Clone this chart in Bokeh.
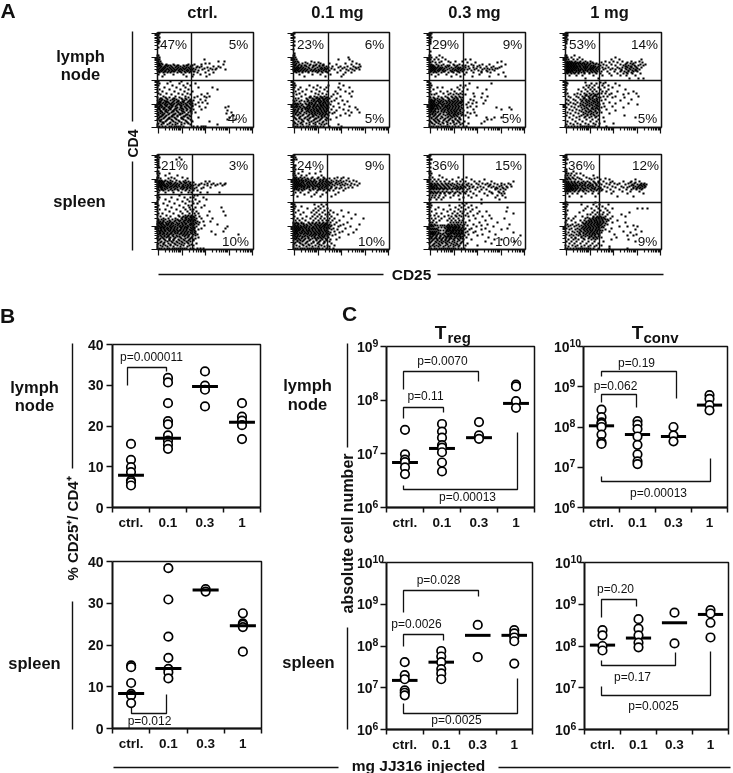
from bokeh.plotting import figure
from bokeh.embed import file_html
from bokeh.resources import INLINE
from bokeh.core.properties import value
from bokeh.models import Range1d, LogScale, LinearScale, LinearAxis, LogAxis, FixedTicker
import math

# ---------- flow cytometry dots, read row by row: {CD4 level: [CD25 levels]} ----------
LN_CTRL = {94:[0,1,2],92:[0,1],90:[0,2],88:[1],86:[0,1,2],84:[1],80:[1],72:[0,1],70:[0,2],68:[0,1,2,47],66:[0,1,3,61,67],64:[0,1,2,4,48,52],
63:[2,5,9,16,31,37,44,66],61:[1,4,7,10,14,19,23,27,33,40,44,56,61],60:[0,3,6,8,12,15,18,21,25,29,31,34,39,42,50,63],59:[2,5,7,10,13,16,20,23,26,28,32,36,47,53,59],
58:[1,4,6,9,11,14,17,19,22,24,27,30,33,35,38,45,55,58,68],57:[0,3,5,8,12,15,18,21,25,29,31,34,41,51],55:[2,6,10,13,20,24,28,32,40,48,56],53:[1,7,16,26,36,43,52],51:[5,29,35,49],
46:[0,1,13,24],44:[0,2,10,22,30,38],42:[1,15,26,33],40:[0,7,19,28,41,55],38:[2,12,23,31,60],36:[0,5,17,27,35],34:[1,9,21,30,50],33:[3,14,25,33,44],31:[6,18,28,40,47,52],
30:[0,8,12,22,31,37,49],28:[2,5,10,15,19,25,29,33,43],27:[0,4,7,13,17,21,27,32,36,48],25:[1,3,6,9,11,15,19,23,26,30,34,41,45],24:[0,2,5,8,12,14,17,21,24,28,32,35,50],
23:[1,3,7,10,13,16,20,22,26,29,33,38],21:[0,2,5,9,12,15,18,24,27,31,35,42,71],20:[1,4,7,11,14,20,23,28,32,48,68],18:[2,6,9,13,17,22,26,30,36,44],17:[0,3,8,11,16,19,24,29,33,70],
15:[1,5,10,14,21,27,31,38,74],14:[3,7,12,18,23,25,34,69],12:[1,5,9,15,20,28,32,76],10:[2,7,12,17,24,30,41,72],8:[0,4,10,14,19,26,33,78,70],6:[3,8,16,22,29,35,52],4:[1,6,12,20,27,31],
3:[0,4,10,15,18,24,33,60],1:[0,2,5,8,12,14,17,19,21,23,26,36,40,44,46,48]}
LN_CTRL_CORE = {62:[1,2,3,8,9,11,13,17,20,21,26,29,30,34,35],56:[1,2,4,7,8,11,14,16,17,22,23,27,30,33,36,37],29:[3,4,9,16,17,24,28],26:[2,3,8,9,10,16,20,21,25,26,31,33,34],22:[3,4,8,9,14,15,19,23,24,29,30,34,35],19:[1,2,6,7,12,13,18,19,24,25,29,33,34],16:[3,4,8,9,15,16,20,25,26,33,34],13:[0,1,5,6,11,16,17,22,23,29,30],11:[3,4,8,14,15,20,26,27,33],9:[1,6,11,12,18,24,25,31],7:[2,3,9,15,21,28,34],5:[5,6,13,18,24,30]}
LN_01 = {94:[0,1],90:[0,1],86:[1],82:[0,1],78:[0],74:[1],72:[0,1],70:[0,2,55],68:[0,1,3,45,56],66:[0,2,4,18,59],65:[1,5,12,21,25],64:[0,3,9,14,27,36,52,63],63:[2,6,17,23,30,43,58,66],
61:[0,4,8,13,20,26,33,39,47,54,60,67],60:[1,3,5,7,10,15,19,24,28,31,35,45,51,62,65],59:[0,2,4,6,9,12,16,22,27,29,32,34,38,49,57,63],58:[1,3,5,8,11,14,18,21,25,28,31,33,41,53,59,66],
57:[0,2,4,7,10,13,17,20,23,26,30,36,47,55,61],55:[3,9,15,24,29,34,44,52,58],53:[6,19,27,37,50],51:[11,32,48],
44:[0,1,46],42:[0,2,16,24,35,50],40:[1,7,20,27,33,45,56],38:[0,5,13,23,31,47],36:[2,9,18,26,34,42,52,59],34:[0,6,22,29,44,56],33:[3,12,25,33,40],31:[0,8,17,21,27,31,38,47,58],
29:[2,5,13,19,23,26,29,32,36,43],27:[0,3,8,15,18,21,24,27,30,33,41,49],26:[1,6,11,14,20,23,25,28,31,34,38,54],24:[0,2,4,7,12,16,19,22,26,29,32,35,45],23:[1,3,5,9,13,15,18,21,24,27,30,33,37,51],
21:[0,2,4,6,10,14,17,20,23,25,28,31,34,40,56],20:[1,3,7,11,13,16,19,22,26,29,32,35,46,62],18:[0,2,5,8,12,15,18,21,24,27,30,33,38,50,64],17:[1,4,9,14,17,20,23,25,28,31,34,43,55],
15:[0,3,6,11,16,19,22,26,29,32,36,41,58,66],14:[2,7,13,18,21,24,27,30,33,39,52],12:[0,4,9,15,20,23,28,31,35,47,56],10:[1,6,12,17,25,29,33,43],8:[3,8,14,21,27,32,37],6:[0,5,10,18,24,30],
4:[2,7,13,20,26,33],3:[0,4,9,16,22,28,31,45],1:[0,2,4,7,10,13,15,18,20,22,24,27,30,36,48]}
LN_01_CORE = {62:[1,2,5,8,11,12,16,20,22,26,29,30],56:[1,2,5,6,9,12,15,19,22,25,28,32,33],30:[16,17,23,24,28,29,33,34],28:[14,20,21,25,26,30,31,34],25:[16,18,22,26,27,30,32,35],22:[3,8,15,16,20,21,24,27,28,30,33,34],19:[5,9,12,14,16,20,23,26,27,30,33,34],16:[1,4,8,13,15,18,21,24,25,28,31,33],13:[2,5,10,16,19,22,26,29,32,34],11:[0,7,14,19,20,25,28,31],9:[2,6,11,16,22,23,28,34],7:[9,15,20,26,33],5:[1,8,16,22,29]}
LN_03 = {94:[0,1,2],92:[0,1],90:[0,2],88:[1],86:[0,1],84:[0,1],76:[1],72:[0,1,10],70:[0,2,7,13],68:[0,1,5,9,16,36,41],66:[0,3,12,19,26,33,72],65:[1,6,10,21,38,46,68],
63:[0,2,7,14,24,30,42,53,60,76],61:[1,3,5,9,16,19,27,34,39,48,57,64,72],60:[0,2,4,6,8,11,13,17,22,26,29,31,36,44,51,62,70],59:[1,3,5,7,10,12,15,20,24,28,30,33,40,47,55,58,66,68],
58:[0,2,4,6,9,11,14,18,23,26,29,32,35,38,45,53,60,63],57:[1,3,5,8,10,13,16,21,25,27,31,34,42,49,57,65],55:[0,4,7,12,19,24,30,37,44,52,61,74],53:[2,9,17,27,35,50,69],51:[6,22,31,43,60,76],
44:[0,1,40,62],42:[0,2,31,36],40:[1,8,13,28,34,48],38:[0,4,22,30,38,57],36:[1,11,18,25,33],34:[0,7,14,21,27,31,44,53],33:[2,5,19,24,29,33,36],31:[0,9,16,22,26,30,45,58],
30:[1,4,12,18,23,27,31,33,52],28:[0,2,6,10,14,20,24,28,32,41],27:[1,3,5,8,12,16,19,22,26,29,33,44,56],25:[0,2,4,7,10,13,18,21,24,27,30,32,39,47],24:[1,3,5,9,11,15,17,20,23,26,29,31,43,54],
23:[0,2,4,6,8,12,14,19,22,25,28,33,37],21:[1,3,5,7,10,13,16,18,21,24,27,30,41,47],20:[0,2,4,8,11,15,17,20,23,26,29,32,38,67,80],18:[1,3,6,9,13,16,19,22,25,28,31,44,72,82],17:[0,2,5,12,15,18,21,24,27,30,34],
15:[1,4,8,14,17,20,23,26,29,33,38,45],14:[3,6,11,19,22,25,28,31,41],12:[0,5,9,16,21,24,27,32,36,47],10:[2,7,13,18,23,30,39,57,65,72],8:[4,8,15,20,26,31,58,62],6:[1,6,10,17,24,29,35,55],
4:[3,9,14,21,27,33,39,52],3:[0,5,11,18,25,31],1:[0,2,4,7,9,12,14,16,18,20,23,26,29,34,37]}
LN_03_CORE = {62:[0,1,3,4,9,12,18,20,25,28,33,36,44,50],56:[0,1,2,5,6,9,14,15,22,23,28,29,33,52,58],29:[5,8,13,19,25,28],26:[0,1,2,4,5,9,11,14,17,20,23,25,28,31,33],22:[0,1,2,3,5,7,9,13,16,18,20,23,26,29,32],19:[0,1,2,3,4,6,8,11,14,18,20,23,26,29,33],16:[0,2,4,6,9,12,15,19,22,25,27,31],13:[1,3,6,10,14,18,20,24,26,29,33],11:[0,4,8,12,19,22,25,28],9:[2,6,11,16,21,26,30],7:[0,5,9,14,19,23,28],5:[2,7,13,18,24,30]}
LN_1 = {94:[0,1,2],92:[0,1,2],90:[0,1],88:[0,2],86:[0,1],84:[1],80:[0],72:[0,1,9],70:[0,1,2,6,14,50],68:[0,1,3,8,12,17,46,54,76],66:[0,2,4,6,10,15,20,25,40,48,57,66,74],65:[1,3,5,7,9,12,14,18,22,27,36,44,52,62,70,77],
63:[0,2,4,6,8,10,13,16,19,21,24,30,33,38,46,55,60,67,75,80],62:[1,3,5,7,9,11,14,17,20,23,26,28,35,41,50,58,63,69,73,78],60:[0,2,4,6,8,10,12,15,18,20,22,25,27,29,32,37,43,52,57,62,66,71,76],
59:[1,3,5,7,9,11,13,16,19,21,24,26,28,31,34,40,47,54,60,64,68,72],58:[0,2,4,6,8,10,13,15,17,20,23,25,27,30,33,38,45,50,56,61,65,70,74],56:[1,3,5,7,11,14,18,22,26,29,32,36,42,49,55,59,63,68,72],
54:[2,6,9,13,19,24,31,35,44,52,58,62,67,75],52:[4,11,17,28,37,46,55,61,70],49:[20,33,64,73,78],
45:[0,1,20,35,40],44:[0,2,26,31,38,50],42:[1,21,24,29,37,43,54],40:[0,18,23,27,33,39,47],38:[1,13,20,25,29,35,43,60],36:[0,16,22,27,31,37,41,52,68],34:[2,12,19,24,28,33,36,40,46,63,71],
33:[0,9,15,21,26,30,32,44,58],31:[3,11,17,23,28,31,38,42,50,73],30:[5,13,19,24,27,33,35,47,59],28:[1,8,15,21,25,29,32,40,66],27:[3,10,17,20,23,27,31,36,55],25:[5,12,18,22,26,30,33,44],
24:[1,8,15,20,24,28,32,38,50,63],23:[3,10,17,22,26,30,34,72],21:[6,13,19,24,29,33,39,47],20:[1,9,16,21,27,31,36,58],18:[4,11,17,23,28,33,41],17:[7,14,20,25,30,34,50],15:[2,10,18,23,28,32,36],
14:[5,13,20,26,31,44],12:[1,8,16,22,29,33,59],10:[4,11,19,24,30,38,70],8:[7,14,21,27,33],6:[2,10,17,25,31,39],4:[5,12,20,28,34,48],3:[1,8,15,23,30],1:[0,3,6,9,12,15,17,19,21,23,25,27,29,33,41]}
LN_1_CORE = {64:[1,2,3,5,6,8,10,11,13,15,17,19,22,25,28,31,61,65,68],61:[0,1,2,3,5,6,8,9,11,12,14,15,18,20,22,25,28,30,33,60,61,65,66,70],57:[0,1,2,3,4,6,7,9,11,13,15,18,20,22,25,28,31,56,63,67,70,71],55:[0,1,3,5,8,10,13,16,19,24,27,30,61,66],32:[20,21,25,29,30],29:[18,19,24,27,31],26:[16,21,24,28,29,32],22:[15,18,21,24,27,31,32],19:[19,22,26,27,30,32],16:[16,21,24,26,30],13:[18,22,25,28],11:[14,20,26,31]}
SP_CTRL = {94:[0,1],92:[0,2,22],90:[1,19,24],88:[0,1],86:[1],84:[0,1],82:[1,2],78:[0,1],76:[0,2,12],74:[1,8,20],72:[0,1,14,25],71:[0,3,11,17,30],69:[0,2,4,8,13,19,28],68:[1,3,5,7,10,15,22,26,31,48,52],
66:[0,2,4,6,9,12,14,17,20,24,28,32,44,50,56,63,68],65:[1,3,5,7,10,13,16,19,22,26,30,33,38,42,47,54,60,67],64:[0,2,4,6,8,11,15,18,21,25,28,31,34,36,41,50,58,65],62:[1,3,5,9,12,16,20,24,27,29,32,35,39,46,53],
61:[0,4,7,10,14,18,23,26,30,33,37,44],59:[2,6,11,15,21,28,32,36,40],57:[1,8,16,24,31,34,43,50,62],54:[0,1,22,37,40],52:[0,2,14,27,33,36,46],50:[1,8,20,30,38,49],48:[0,12,25,32,35,42],46:[0,6,17,28,36,40],
44:[1,10,22,31,34,47],42:[0,14,26,32,38,44,64],40:[2,8,19,28,33,36],38:[0,12,23,30,35,39,52,66],36:[1,5,16,25,32,37,41],34:[0,9,21,28,31,34,38,50,68],33:[3,13,22,26,30,33,36,42],31:[0,6,11,18,24,28,31,35,39,44,55],
30:[1,4,8,15,20,25,29,32,34,37],28:[0,3,6,10,13,17,22,26,30,33,36,40,46,53],27:[1,2,5,8,12,15,19,24,27,31,35,38,42],25:[0,3,6,9,11,14,18,21,25,28,32,34,37,41,60],24:[1,4,7,10,13,16,20,23,26,30,33,36,47],
23:[0,2,5,8,12,15,18,22,25,28,31,35,39,70],21:[1,3,6,9,11,14,17,20,24,27,30,34,37,44,68],20:[0,4,7,10,13,16,19,23,26,29,32,36,41],18:[2,5,8,12,15,18,21,25,28,31,35,38,54,66],17:[0,3,6,10,14,17,20,24,27,30,33,37],
15:[1,5,9,12,16,22,26,29,32,36,40,58,81],14:[3,7,11,15,19,25,28,31,38],12:[0,5,9,13,18,23,30,34,41],10:[2,7,12,16,21,26,32,36],8:[4,10,14,19,24,29,33],6:[1,6,11,17,22,27,31,39],4:[3,8,13,20,26,32,36],
3:[0,5,10,16,23,30],1:[0,2,4,7,10,12,15,17,19,21,23,25,27,29,33,36,40,43,46]}
SP_CTRL_CORE = {67:[1,2,4,6,11,13,18,23,27,29,33,36],63:[0,1,3,4,7,8,10,13,14,17,19,22,25,26,30,33],60:[0,1,4,5,8,13,17,20,25,29,35],32:[25,28,29,33,34,35,37],29:[1,6,12,18,21,23,27,28,31,33,35,36,38],26:[0,2,4,5,9,11,14,16,20,22,25,28,29,33,34,36,39],22:[0,3,4,6,7,10,13,14,17,20,23,24,27,29,30,33,36,37],19:[0,1,3,4,7,8,11,13,16,17,20,22,23,26,29,33,34,37],16:[2,3,6,7,10,13,14,18,20,23,24,27,30,34,38],13:[1,4,7,10,11,16,20,22,27,31,35],11:[0,3,6,12,17,24,28,33,38],9:[1,8,12,16,22,27,31,36],7:[3,7,15,20,25,30],5:[0,6,13,18,24,34]}
SP_01 = {94:[0,1],92:[0,2],90:[1,3],88:[0],84:[1,2],82:[0,1],80:[0,2],78:[1,9,27],76:[0,1,5,16,22],74:[0,2,8,13,28],72:[1,3,7,11,19,25,30,44,50],71:[0,2,5,9,14,18,24,31,36,41,48,55],69:[1,3,6,8,10,13,17,21,26,29,33,38,43,47,53,60],
68:[0,2,4,6,9,12,15,18,20,23,27,30,32,35,40,45,50,56,63],66:[1,3,5,7,10,13,16,19,22,25,28,31,34,37,42,46,52,58,66],65:[0,2,4,6,8,11,14,17,20,24,26,29,32,35,39,44,49,54,61],64:[1,3,5,7,9,12,15,18,21,23,27,30,33,36,41,47,51,57,64],
62:[0,2,4,8,11,14,16,20,25,28,31,34,38,43,48,55,59],61:[1,3,6,10,13,19,22,26,29,33,37,42,46,52],59:[0,5,9,17,24,30,36,40,50],57:[2,7,15,23,33,45],55:[0,11,21,29,42],53:[4,18,27,38],
45:[0,1,21,28,33],43:[0,2,8,25,30],41:[1,14,22,27,34],39:[0,5,20,25,31,37,48],37:[2,10,18,23,29,35,40,55],35:[0,7,21,26,32,36,44,62],33:[1,13,19,24,28,34,38,50],31:[0,4,9,17,22,27,31,36,41,58,70],
29:[2,6,12,20,25,29,33,35,39,46],27:[0,3,8,15,19,23,26,30,34,37,43,54],25:[1,5,10,13,17,21,24,28,31,33,36,41,50,66],24:[0,2,4,7,11,14,18,22,25,27,30,32,35,38,47],23:[1,3,5,8,10,13,16,20,23,26,29,31,34,37,45,57],
21:[0,2,4,6,9,12,15,18,21,24,27,30,33,36,40,52],20:[1,3,5,7,10,13,16,19,22,25,28,31,34,38,44,63],18:[0,2,4,8,11,14,17,20,23,26,29,32,35,41,49],17:[1,3,6,9,12,15,18,21,24,27,30,33,37,46,60],
15:[0,2,5,10,14,17,20,23,26,29,32,36,42,55],14:[1,4,7,12,16,19,22,25,28,31,34,39],12:[0,3,9,15,21,24,27,30,35,46],10:[2,6,11,17,23,29,33,37,43],8:[4,9,14,20,26,31,36],6:[1,7,12,18,24,30,38],
4:[3,10,16,22,28,34,41],3:[0,6,13,19,25,31,36],1:[0,2,4,7,9,11,14,16,18,20,22,24,26,29,33,36,40]}
SP_01_CORE = {70:[1,3,5,8,12,15,21,27,30,33],67:[0,1,3,5,8,10,14,16,19,22,26,29,33,36,38,43,48],63:[0,2,4,6,8,10,11,14,16,19,22,24,26,29,32,34,38],60:[1,3,5,8,11,16,20,25,27,31,35],26:[0,2,4,5,8,10,16,19,22,26,29,32,33],22:[0,1,3,5,7,8,11,13,16,19,20,23,26,28,31,33,35],19:[0,2,3,5,6,9,10,13,15,16,19,22,25,26,28,31,33],16:[1,3,4,7,8,11,13,15,18,21,22,25,27,30,33,35],13:[0,2,4,6,9,11,14,18,21,26,29,31,34],11:[1,3,5,8,12,15,19,22,25,28,32],9:[0,4,7,10,16,23,27,33],7:[2,6,13,20,25,31],5:[0,9,15,26]}
SP_03 = {94:[0,1],92:[0],90:[1,2],86:[0,1],82:[1],78:[0,1],76:[0,2],74:[1,10],72:[0,3,13,29,37],70:[1,5,9,17,23,33,42,55],68:[0,3,7,11,15,20,27,31,36,45,50,62,84],66:[1,2,5,8,12,16,19,23,28,34,39,47,53,58,65,72,79],
65:[0,3,6,9,13,17,21,25,30,33,37,42,49,56,61,68,75,81],63:[1,2,4,7,11,15,19,24,28,31,35,40,44,51,59,64,70,77,82],62:[0,3,5,8,12,16,20,26,29,32,36,43,48,54,62,67,73,78],60:[1,4,7,10,14,18,22,27,30,34,38,46,52,57,66,71,76],
58:[0,2,5,9,13,17,23,28,33,37,41,50,60,69,74],56:[1,4,7,11,15,20,25,31,36,44,55,63,72,75],54:[0,3,6,10,16,24,29,39,47,58,68,73],52:[2,5,9,14,21,34,42,66,76],50:[0,1,7,12,30,52,70],
46:[0,1,33,37,52],44:[0,2,20,30,35,42],42:[1,9,26,32,39,47,78],40:[0,6,14,21,29,36,43],38:[2,18,25,31,34,41,50,57,77],36:[0,7,12,23,28,33,38,48,84],34:[1,5,19,26,30,36,44,60],33:[0,9,15,22,27,32,39,53],
31:[2,6,12,20,24,29,34,46,62,75],29:[0,4,10,18,22,26,30,33,40,56],27:[1,3,7,21,24,27,29,32,36,50,68],25:[0,2,5,19,22,25,28,31,35,44,58,80],24:[1,3,6,18,20,23,26,29,33,38,52],23:[0,2,4,17,20,22,25,27,30,34,47,64],
21:[1,3,5,7,16,19,21,24,26,29,32,36,42,56,78],20:[0,2,4,6,8,18,20,23,25,28,31,35,40,52,72],18:[1,3,5,7,17,19,22,24,27,30,33,38,46,60],17:[0,2,4,6,9,16,21,23,26,29,32,36,44,84],15:[1,3,5,8,13,18,20,25,28,31,34,39,53,66],
14:[0,4,7,11,15,19,22,27,30,35,48,91],12:[2,6,10,14,17,21,26,31,37,59],10:[0,4,8,12,16,20,24,29,34,42,65,72],8:[2,6,10,14,18,23,28,33,56,85],6:[0,5,9,13,17,22,27,31,38,62],4:[3,7,11,16,21,26,30,36,48],3:[1,5,9,14,19,24,29],1:[0,2,5,7,10,12,14,16,18,20,22,24,26,29,32,35]}
SP_03_CORE = {64:[1,2,5,7,10,14,18,22,27,33,38,60,72],61:[0,2,3,5,7,9,11,13,15,17,20,23,25,28,31,33,40,66,68,74],57:[1,3,6,8,11,15,19,21,26,30,35,62,70],24:[8,11,13,15],22:[9,12,15,18,19,21,23,24,26,27,29,30,33],19:[9,11,14,17,18,20,21,23,24,26,27,29,30,32,33],16:[0,1,2,3,4,6,9,11,14,17,19,21,22,24,25,27,29,30,32,33],13:[1,3,7,11,16,18,19,21,23,25,27,29,31,33],11:[0,2,5,7,10,13,17,20,22,25,28,31,33],9:[3,8,12,16,19,25,30],7:[1,7,12,16,20,25,32],5:[4,10,18,24,28]}
SP_1 = {94:[0,1],92:[0,1],90:[0,2],86:[1],80:[0,1],78:[0,1,8],76:[1,3,6,11,15],74:[0,2,5,9,18,28],72:[0,3,7,12,21,32],71:[1,4,8,14,24,29,40],70:[0,2,5,10,16,26,35,44,70],68:[1,3,6,9,13,18,22,28,33,38,47,58,66,74],
66:[0,2,4,7,10,14,17,20,25,30,34,41,49,54,63,69,76,79],65:[1,3,5,8,11,15,19,23,27,31,36,44,52,60,67,72,75,78,81],63:[0,2,4,6,9,12,16,20,24,28,33,39,47,56,64,70,73,77,80],62:[1,3,5,7,10,13,17,22,26,30,35,42,50,58,62,68,72,75,79],
60:[0,2,4,6,8,11,15,19,25,29,32,37,45,54,61,66,71,76],58:[1,3,5,9,13,18,23,28,34,41,48,57,65,74],56:[2,7,12,20,27,33,46,62,78],53:[4,16,30,52,68],
47:[0,1,30],45:[0,2,16,28,34,43],43:[1,22,31,37],41:[0,20,26,33,40,47,72,77,82],39:[2,18,29,35,42],37:[0,14,27,32,38,44,64],35:[1,22,25,30,34,37,42,56],33:[0,10,17,28,32,35,40,47,60],31:[3,8,20,24,27,30,33,36,39,45],
29:[1,6,15,19,23,26,29,31,34,37,43,52],27:[0,10,17,21,24,27,30,32,35,38,47,60],25:[2,7,13,19,22,25,28,31,33,36,42],24:[0,5,11,16,20,23,26,29,32,35,39,68],23:[3,9,14,18,21,24,27,30,33,37,54,62,72],21:[1,6,12,16,19,22,25,28,31,34,46],
20:[4,10,14,18,21,24,27,30,33,40,70],18:[0,7,12,16,20,23,26,29,32,44,58,76],17:[3,9,14,18,22,25,28,31,36,65],15:[1,6,11,15,20,24,27,30,33,49,71],14:[4,8,13,18,22,26,29,34,62,68],12:[0,6,10,16,24,28,31,36,51],
10:[3,8,13,19,26,30,46,63],8:[1,6,11,17,23,29,38,70],6:[4,9,15,21,27,33],4:[0,7,12,19,25,31,36],3:[3,10,16,23,29,44],1:[0,2,5,8,11,13,15,17,19,21,23,25,28,33,44,62]}
SP_1_CORE = {67:[1,3,6,9,12,16,20,24,29,33,45,65,70],64:[0,1,3,5,7,8,10,12,14,17,19,22,25,27,31,66,68,74,76,79],61:[0,1,3,5,6,8,10,12,15,18,20,23,27,29,33,35,68,71,74,77],59:[0,2,4,7,10,14,17,21,26,31,36],32:[22,28,31,33,36,38],30:[25,28,31,34,37,40,42],28:[21,24,26,29,32,35,38,41],26:[18,20,23,26,29,32,34,37,40],22:[17,20,23,25,28,31,33,36,38],19:[15,19,22,25,27,30,32,35,37],16:[14,18,21,24,27,29,32,34],13:[16,20,24,26,30,33],11:[10,18,23,28,32]}

PERCENTS_LN = [("47%","5%","4%"),("23%","6%","5%"),("29%","9%","5%"),("53%","14%","5%")]
PERCENTS_SP = [("21%","3%","10%"),("24%","9%","10%"),("36%","15%","10%"),("36%","12%","9%")]
DOSE_HEADINGS = ["ctrl.","0.1 mg","0.3 mg","1 mg"]
GROUPS = ["ctrl.","0.1","0.3","1"]

# ---------- panel B, % CD25+/CD4+ ----------
B_LN_VALUES = [[15.6,11.7,9.9,8.7,6.6,6.2,5.4],[31.8,30.7,25.6,21.2,20.4,17.7,16.4,15.4,14.4],[33.4,29.9,28.9,24.8],[25.6,22.3,21.3,20.2,16.8]]
B_LN_MEANS = [7.9,17.0,29.7,20.9]
B_SP_VALUES = [[15.1,14.7,10.9,8.3,7.9,6.1],[38.4,30.9,22.0,16.9,14.3,13.5,12.0],[33.4,32.8],[27.6,25.2,24.9,24.3,18.4]]
B_SP_MEANS = [8.4,14.4,33.2,24.6]
B_TICKS = [0,10,20,30,40]

# ---------- panel C, absolute cell number ----------
TREG_LN_VALUES = [[2.8e7,9.8e6,7.8e6,7e6,5.6e6,4.2e6],[3.6e7,2.6e7,2e7,1.45e7,1.3e7,1.07e7,6.9e6,4.7e6],[3.9e7,2.2e7,1.9e7],[1.95e8,1.8e8,9.6e7,7.2e7]]
TREG_LN_MEANS = [6.9e6,1.26e7,2.0e7,8.7e7]
TCONV_LN_VALUES = [[2.7e8,1.75e8,1.3e8,1.2e8,1e8,6.5e7,4.2e7,3.8e7],[1.4e8,1.15e8,8.9e7,5.8e7,3.6e7,2.1e7,1.4e7,1.2e7],[1e8,6.2e7,4.4e7],[6.2e8,5e8,3.5e8,2.6e8]]
TCONV_LN_MEANS = [1.07e8,6.5e7,5.8e7,3.5e8]
TREG_SP_VALUES = [[4.1e7,2e7,1.6e7,8.7e6,7.6e6,6.6e6],[7.6e7,5.6e7,4.1e7,2.8e7,2.2e7,1.6e7],[3.2e8,5.4e7],[2.4e8,2e8,1.6e8,1.3e8,3.8e7]]
TREG_SP_MEANS = [1.5e7,4.1e7,1.8e8,1.8e8]
TCONV_SP_VALUES = [[2.4e8,1.8e8,1e8,7.8e7],[4.4e8,2.6e8,1.8e8,1.2e8,9.3e7],[6.3e8,1.15e8],[7.2e8,6e8,3.6e8,1.6e8]]
TCONV_SP_MEANS = [1.05e8,1.55e8,3.6e8,5.7e8]

W, H = 733, 773
INK = "#111111"
FONT = value("Liberation Sans")

p = figure(width=W, height=H, x_range=Range1d(0, W), y_range=Range1d(H, 0), x_axis_type=None, y_axis_type=None,
           toolbar_location=None, output_backend="svg", min_border=0, outline_line_color=None,
           background_fill_color="white", border_fill_color="white", styles={"position": "fixed", "left": "0px", "top": "0px"})
p.grid.visible = False

_n = [0]
def add_panel(px0, px1, d0, d1, py_bottom, py_top, v0, v1, log=False):
    _n[0] += 1
    xn, yn = f"x{_n[0]}", f"y{_n[0]}"
    k = (d1 - d0) / (px1 - px0)
    p.extra_x_ranges[xn] = Range1d(d0 - px0 * k, d0 + (W - px0) * k)
    p.extra_x_scales[xn] = LinearScale()
    a, b = (math.log10(v0), math.log10(v1)) if log else (v0, v1)
    m = (b - a) / (py_top - py_bottom)
    s, e = a + (H - py_bottom) * m, a + (0 - py_bottom) * m
    if log:
        s, e = 10 ** s, 10 ** e
    p.extra_y_ranges[yn] = Range1d(s, e)
    p.extra_y_scales[yn] = LogScale() if log else LinearScale()
    return xn, yn

def text(xs, ys, ts, size, bold=True, align="center", angle=0.0, **kw):
    p.text(xs, ys, text=ts, text_font=FONT, text_font_size=f"{size}px", text_font_style="bold" if bold else "normal",
           text_color=INK, text_align=align, text_baseline="middle", angle=angle, **kw)

def hide_labels(ax):
    ax.major_label_text_color = None
    ax.major_label_standoff = 0

def frame(x0, y0, x1, y1, w=1.5):
    p.multi_line([[x0, x1, x1], [x0, x1]], [[y0, y0, y1], [y1, y1]], line_color=INK, line_width=w)

def rows_to_xy(*layers):
    xs, ys = [], []
    for rows in layers:
        for y, vals in rows.items():
            for x in vals:
                xs.append(x); ys.append(y)
    return xs, ys

# ---------- panel A ----------
A_X = [157, 293, 429, 565]
A_VLINE = [[34, 35, 34, 34], [35, 34, 34, 34]]
A_HLINE = [47, 47]
A_HLINE_SP = [55, 47, 47, 47]
A_ROWS = [(32, 127, [(LN_CTRL, LN_CTRL_CORE), (LN_01, LN_01_CORE), (LN_03, LN_03_CORE), (LN_1, LN_1_CORE)], PERCENTS_LN, 43.5, 118),
          (154, 249, [(SP_CTRL, SP_CTRL_CORE), (SP_01, SP_01_CORE), (SP_03, SP_03_CORE), (SP_1, SP_1_CORE)], PERCENTS_SP, 165, 241)]
A_LABEL_X = [[173, 238, 237], [310, 374, 374], [445, 512, 511], [582, 644, 647]]
A_LABEL_X2 = [[174, 238, 235], [310, 374, 371], [445, 508, 508], [581, 645, 647]]
DEC_X = [1, 24.5, 48, 71.5, 95]
DEC_Y = [0, 23.5, 47, 70.5, 94]
def minors(dec):
    step = dec[1] - dec[0]
    return [d + step * math.log10(k) for d in dec[:-1] for k in range(2, 10)]

for r, (top, bottom, sets, pct, ya, yb) in enumerate(A_ROWS):
    for c, layers in enumerate(sets):
        left = A_X[c]
        xn, yn = add_panel(left, left + 96, 0, 96, bottom, top, 0, 95)
        xs, ys = rows_to_xy(*layers)
        p.scatter(xs, ys, marker="square", size=2.1, color="black", line_color=None, x_range_name=xn, y_range_name=yn)
        h = A_HLINE[0] if r == 0 else A_HLINE_SP[c]
        v = A_VLINE[r][c]
        p.segment([0, v], [h, 0], [96, v], [h, 95], line_color=INK, line_width=1.4, x_range_name=xn, y_range_name=yn)
        frame(left, top, left + 96, bottom)
        ax = LinearAxis(y_range_name=yn, fixed_location=left, bounds=(0, 95), ticker=FixedTicker(ticks=DEC_Y, minor_ticks=minors(DEC_Y)),
                        major_tick_out=6, major_tick_in=0, minor_tick_out=3, minor_tick_in=0, axis_line_color=INK, axis_line_width=1.5,
                        major_tick_line_color=INK, minor_tick_line_color=INK, major_tick_line_width=1.2, minor_tick_line_width=1.2)
        hide_labels(ax); p.add_layout(ax, "left")
        ax = LinearAxis(x_range_name=xn, fixed_location=bottom, bounds=(0, 96), ticker=FixedTicker(ticks=DEC_X, minor_ticks=minors(DEC_X)),
                        major_tick_out=6, major_tick_in=0, minor_tick_out=3, minor_tick_in=0, axis_line_color=INK, axis_line_width=1.5,
                        major_tick_line_color=INK, minor_tick_line_color=INK, major_tick_line_width=1.2, minor_tick_line_width=1.2)
        hide_labels(ax); p.add_layout(ax, "below")
        lx = A_LABEL_X[c] if r == 0 else A_LABEL_X2[c]
        text(lx, [ya, ya, yb], list(pct[c]), 13.5, bold=False)

text([202, 337, 474, 609], [11, 11, 11, 11], DOSE_HEADINGS, 16.5)
text([7.5], [10], ["A"], 21)
text([7], [315], ["B"], 21)
text([349], [313], ["C"], 21)
text([80, 80, 79], [55, 73, 200], ["lymph", "node", "spleen"], 16.5)
text([34, 34, 34], [386, 404, 662], ["lymph", "node", "spleen"], 16.5)
text([307, 307, 308], [384, 403, 661], ["lymph", "node", "spleen"], 16.5)
text([132], [143], ["CD4"], 14, angle=math.pi / 2)
text([411], [274], ["CD25"], 15.5)
text([72], [528], ["% CD25\u207a/ CD4\u207a"], 15, angle=math.pi / 2)
text([347], [533], ["absolute cell number"], 16, angle=math.pi / 2)
text([418], [765], ["mg JJ316 injected"], 15.5)
p.segment([132, 132, 158, 437, 72, 72, 347, 347, 113, 498], [31, 161, 274, 274, 343, 601, 343, 627, 767, 767],
          [132, 132, 383, 663, 72, 72, 347, 347, 338, 730], [121, 250, 274, 274, 468, 729, 447, 729, 767, 767],
          line_color=INK, line_width=1.4)

# ---------- dot plots ----------
def dot_panel(x0, x1, ybot, ytop, v0, v1, values, means, ticks, log, bars_on_top):
    xn, yn = add_panel(x0, x1, 0, 4, ybot, ytop, v0, v1, log)
    xs = [i + 0.5 for i, vals in enumerate(values) for _ in vals]
    ys = [v for vals in values for v in vals]
    bx0 = [i + 0.15 for i in range(4)]
    bx1 = [i + 0.85 for i in range(4)]
    def bars():
        p.segment(bx0, means, bx1, means, line_color="black", line_width=3, x_range_name=xn, y_range_name=yn)
    def dots():
        p.scatter(xs, ys, marker="circle", size=8.5, fill_color="white", line_color="black", line_width=1.7, x_range_name=xn, y_range_name=yn)
    if bars_on_top:
        dots(); bars()
    else:
        bars(); dots()
    frame(x0, ytop, x1, ybot)
    cls = LogAxis if log else LinearAxis
    ax = cls(y_range_name=yn, fixed_location=x0, bounds=(v0, v1), ticker=FixedTicker(ticks=ticks),
             major_tick_out=6, major_tick_in=0, minor_tick_out=0, axis_line_color=INK, axis_line_width=2,
             major_tick_line_color=INK, major_tick_line_width=1.5, major_label_standoff=8 if log else 3,
             major_label_text_font="Liberation Sans", major_label_text_font_style="bold",
             major_label_text_font_size="14px", major_label_text_color=INK)
    if log:
        ax.major_label_overrides = {t: "10" for t in ticks}
        text([x0 - 14] * len(ticks), ticks, [str(round(math.log10(t))) for t in ticks], 10.5, align="left", y_range_name=yn, y_offset=-4)
    else:
        ax.major_label_overrides = {t: str(t) for t in ticks}
    p.add_layout(ax, "left")
    ax = LinearAxis(x_range_name=xn, fixed_location=ybot, bounds=(0, 4), ticker=FixedTicker(ticks=[0, 1, 2, 3, 4]),
                    major_tick_out=5, major_tick_in=0, minor_tick_out=0, axis_line_color=INK, axis_line_width=2,
                    major_tick_line_color=INK, major_tick_line_width=1.5)
    hide_labels(ax); p.add_layout(ax, "below")
    ax = LinearAxis(x_range_name=xn, fixed_location=ybot, bounds=(0, 4), ticker=FixedTicker(ticks=[0.5, 1.5, 2.5, 3.5]),
                    major_tick_out=0, major_tick_in=0, minor_tick_out=0, axis_line_color=None, major_label_standoff=7,
                    major_label_text_font="Liberation Sans", major_label_text_font_style="bold",
                    major_label_text_font_size="13.5px", major_label_text_color=INK,
                    major_label_overrides={0.5: GROUPS[0], 1.5: GROUPS[1], 2.5: GROUPS[2], 3.5: GROUPS[3]})
    p.add_layout(ax, "below")

TEN = [10**6, 10**7, 10**8, 10**9, 10**10]
dot_panel(112, 260, 507, 344, 0, 40, B_LN_VALUES, B_LN_MEANS, B_TICKS, False, True)
dot_panel(112, 261, 728, 561, 0, 40, B_SP_VALUES, B_SP_MEANS, B_TICKS, False, True)
dot_panel(386, 534, 507, 346, 1e6, 1e9, TREG_LN_VALUES, TREG_LN_MEANS, TEN[:4], True, False)
dot_panel(583, 727, 507, 346, 1e6, 1e10, TCONV_LN_VALUES, TCONV_LN_MEANS, TEN, True, False)
dot_panel(386, 532, 729, 562, 1e6, 1e10, TREG_SP_VALUES, TREG_SP_MEANS, TEN, True, False)
dot_panel(584, 728, 729, 562, 1e6, 1e10, TCONV_SP_VALUES, TCONV_SP_MEANS, TEN, True, False)

# significance brackets: open polylines with the p value beside them
BRACKETS = [
 ("p=0.000011", 151, 356, [127,127,166,166], [385,367,367,371]),
 ("p=0.012", 149, 720, [131,131,166,166], [707,713,713,694]),
 ("p=0.0070", 442, 360, [403,403,478,478], [389,371,371,381]),
 ("p=0.11", 425, 395, [403,403,443,443], [418,407,407,412]),
 ("p=0.00013", 467, 496, [403,403,517,517], [485,489,489,432]),
 ("p=0.19", 636, 362, [601,601,676,676], [376,371,371,398]),
 ("p=0.062", 615, 385, [601,601,636,636], [402,394,394,407]),
 ("p=0.00013", 658, 492, [601,601,710,710], [476,481,481,458]),
 ("p=0.028", 438, 579, [403,403,478,478], [612,590,590,596]),
 ("p=0.0026", 416, 623, [403,403,443,443], [646,634,634,640]),
 ("p=0.0025", 456, 719, [403,403,517,517], [703,713,713,678]),
 ("p=0.20", 615, 588, [601,601,636,636], [617,599,599,606]),
 ("p=0.17", 632, 676, [601,601,675,675], [660,665,665,652]),
 ("p=0.0025", 653, 705, [601,601,710,710], [686,695,695,651]),
]
p.multi_line([b[3] for b in BRACKETS], [b[4] for b in BRACKETS], line_color=INK, line_width=1.3)
text([b[1] for b in BRACKETS], [b[2] for b in BRACKETS], [b[0] for b in BRACKETS], 12, bold=False)

# panel C column titles
text([440, 637], [332, 332], ["T", "T"], 19)
text([447, 643], [337, 337], ["reg", "conv"], 15, align="left")

open("out.html", "w").write(file_html(p, INLINE))
